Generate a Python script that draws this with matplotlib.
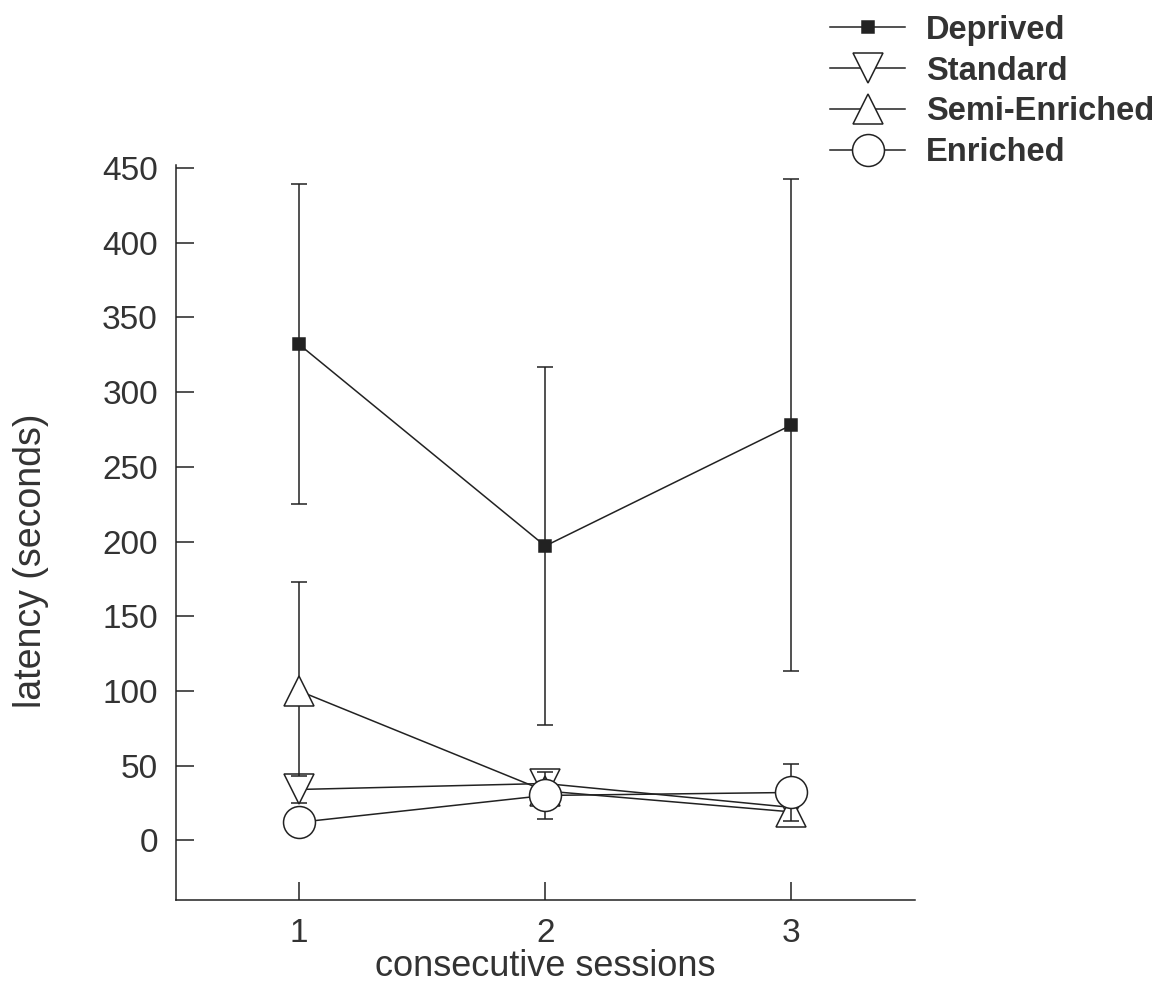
import matplotlib.pyplot as plt

sessions = [1, 2, 3]

deprived = [332, 197, 278]
deprived_err = [107, 120, 165]

standard = [34, 38, 22]
standard_err = [9, 9, 3]

semi_enriched = [100, 33, 19]
semi_enriched_low = [57, 6, 4]
semi_enriched_high = [73, 6, 4]

enriched = [12, 30, 32]
enriched_err = [3, 16, 19]

labels = ['Deprived', 'Standard', 'Semi-Enriched', 'Enriched']

plt.rcParams['font.family'] = ['Liberation Sans', 'DejaVu Sans']

fig = plt.figure(figsize=(11.65, 9.86), dpi=100)
ax = fig.add_axes([0.151, 0.0872, 0.634, 0.7454])

cor = '#222222'
texto = '#333333'
estilo = dict(color=cor, lw=1.1, capsize=6, elinewidth=1.1, capthick=1.1,
              markeredgecolor=cor, markeredgewidth=1.1)

e1 = ax.errorbar(sessions, deprived, yerr=deprived_err, marker='s', ms=8.5,
                 markerfacecolor=cor, zorder=3, **estilo)
e2 = ax.errorbar(sessions, standard, yerr=standard_err, marker='v', ms=22,
                 markerfacecolor='white', zorder=4, **estilo)
e3 = ax.errorbar(sessions, semi_enriched, yerr=[semi_enriched_low, semi_enriched_high],
                 marker='^', ms=22, markerfacecolor='white', zorder=5, **estilo)
e4 = ax.errorbar(sessions, enriched, yerr=enriched_err, marker='o', ms=23,
                 markerfacecolor='white', zorder=6, **estilo)

ax.set_xlim(0.5, 3.5)
ax.set_ylim(-40, 452)
ax.set_xticks(sessions)
ax.set_yticks(range(0, 451, 50))
ax.spines['top'].set_visible(False)
ax.spines['right'].set_visible(False)
for s in ['left', 'bottom']:
    ax.spines[s].set_linewidth(1.1)
    ax.spines[s].set_color(cor)
ax.tick_params(direction='in', length=13, width=1.1, color=cor,
               labelsize=24, labelcolor=texto, pad=13)
ax.tick_params(axis='x', pad=13)

ax.set_xlabel('consecutive sessions', fontsize=26, color=texto)
ax.xaxis.set_label_coords(0.5, -0.067)
ax.set_ylabel('latency (seconds)', fontsize=27, color=texto)
ax.yaxis.set_label_coords(-0.172, 0.461)

handles = [e1[0], e2[0], e3[0], e4[0]]
leg = fig.legend(handles, labels, loc='upper left',
                 bbox_to_anchor=(830 / 1165, 0.985), frameon=False,
                 prop={'weight': 'bold', 'size': 23.5}, handlelength=2.3,
                 handletextpad=0.65, labelspacing=0.3, borderpad=0,
                 borderaxespad=0)
for t in leg.get_texts():
    t.set_color(texto)

fig.savefig('out.png', dpi=100)
